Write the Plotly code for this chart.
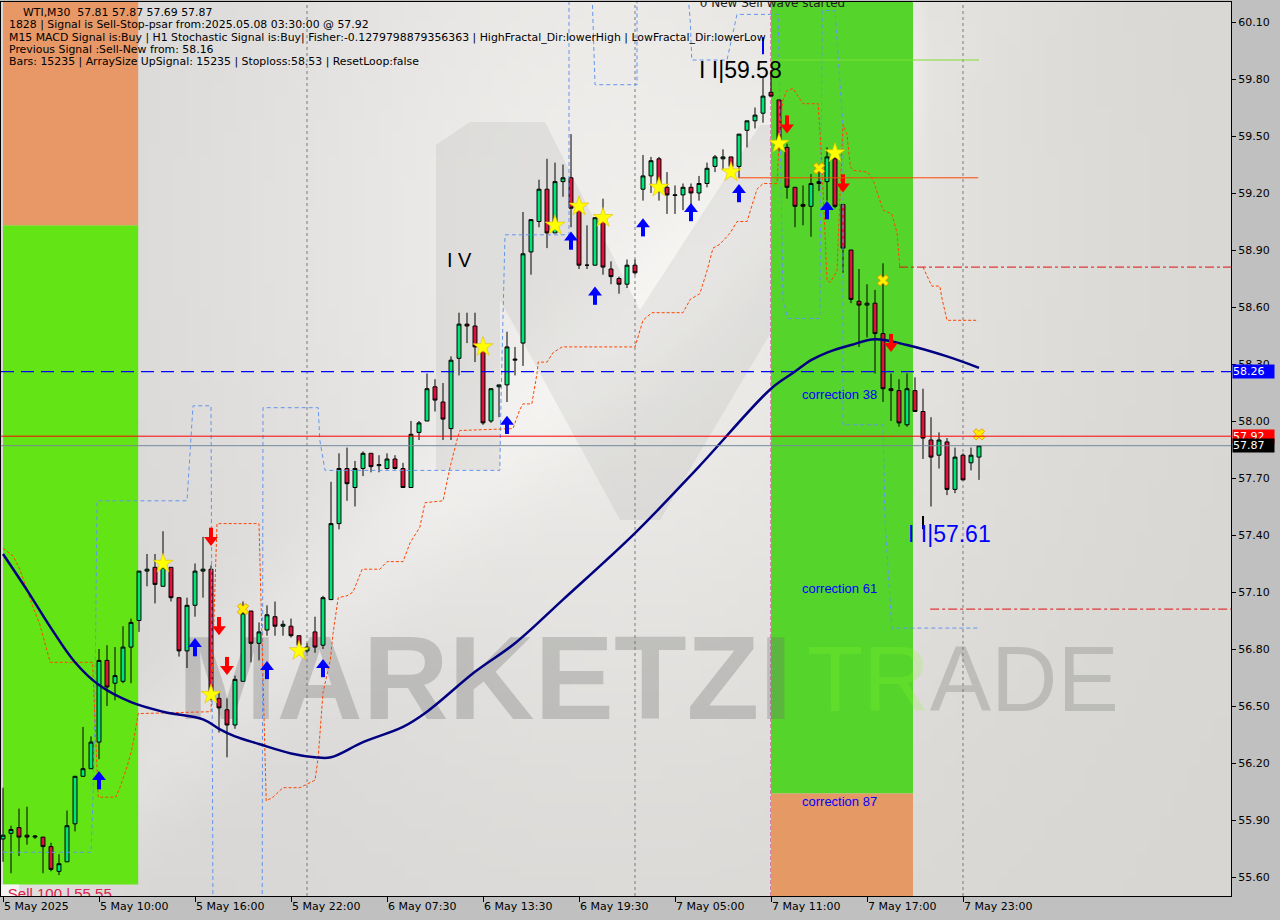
import math, zlib, struct, base64
import plotly.graph_objects as go

# ---------------- data ----------------
bar_index = list(range(123))
opens = [55.80,55.83,55.86,55.82,55.81,55.81,55.76,55.63,55.68,55.88,
56.13,56.17,56.31,56.74,56.62,56.63,56.81,56.95,57.21,57.23,
57.13,57.23,57.07,56.79,57.03,57.21,57.22,56.54,56.48,56.40,
56.63,57.00,56.83,56.90,56.97,56.92,56.92,56.87,56.79,56.89,
56.82,57.06,57.46,57.75,57.65,57.75,57.83,57.765,57.75,57.80,
57.75,57.65,57.94,58.00,58.18,58.10,57.96,58.33,58.51,58.50,
58.39,58.00,58.18,58.19,58.32,58.41,58.89,59.05,59.22,58.99,
59.26,59.28,59.12,58.82,58.82,59.07,58.80,58.75,58.72,58.82,
59.22,59.29,59.38,59.23,59.187,59.19,59.23,59.20,59.25,59.34,
59.38,59.39,59.34,59.53,59.58,59.62,59.73,59.69,59.44,59.23,
59.14,59.13,59.26,59.26,59.38,59.14,58.90,58.63,58.61,58.62,
58.46,58.17,58.16,57.98,58.16,58.05,57.90,57.82,57.89,57.64,
57.82,57.78,57.81]
highs = [56.07,55.87,55.96,55.97,55.82,55.81,55.78,55.72,55.95,56.13,
56.39,56.34,56.80,56.82,56.81,56.92,56.96,57.21,57.30,57.30,
57.42,57.23,57.07,57.07,57.25,57.39,57.24,56.57,56.54,56.66,
57.05,57.00,56.94,57.03,57.05,56.95,56.96,56.87,56.83,56.97,
57.08,57.68,57.83,57.86,57.79,57.84,57.83,57.82,57.83,57.82,
57.78,58.00,58.00,58.25,58.22,58.20,58.34,58.57,58.57,58.57,
58.39,58.17,58.19,58.47,58.39,59.10,59.06,59.27,59.38,59.36,
59.35,59.51,59.12,59.03,59.07,59.17,58.84,58.76,58.85,58.85,
59.40,59.39,59.39,59.31,59.24,59.25,59.25,59.29,59.36,59.40,
59.43,59.39,59.51,59.58,59.65,59.81,59.82,59.69,59.46,59.23,
59.24,59.30,59.32,59.44,59.43,59.14,58.90,58.80,58.72,58.69,
58.83,58.25,58.22,58.25,58.23,58.17,58.02,57.94,57.91,57.86,
57.83,57.86,57.87]
lows = [55.68,55.62,55.71,55.77,55.80,55.62,55.63,55.61,55.68,55.84,
56.13,56.17,56.22,56.50,56.53,56.62,56.62,56.89,57.13,57.04,
57.13,57.05,56.76,56.70,56.97,57.07,56.53,56.36,56.23,56.38,
56.63,56.73,56.74,56.87,56.87,56.87,56.86,56.78,56.78,56.78,
56.80,57.06,57.43,57.58,57.55,57.71,57.73,57.73,57.745,57.745,
57.65,57.65,57.90,58.00,58.05,57.90,57.90,58.24,58.41,58.31,
57.98,57.99,58.02,58.10,58.24,58.29,58.77,59.02,58.91,58.99,
59.18,59.02,58.80,58.80,58.82,58.77,58.72,58.67,58.70,58.77,
59.16,59.20,59.16,59.09,59.09,59.11,59.11,59.16,59.23,59.31,
59.32,59.30,59.28,59.44,59.54,59.57,59.71,59.42,59.17,59.02,
59.03,58.97,59.21,59.16,59.12,58.78,58.62,58.39,58.44,58.25,
58.10,58.00,57.97,57.97,58.05,57.80,57.55,57.75,57.61,57.62,
57.69,57.74,57.69]
closes = [55.82,55.85,55.81,55.81,55.815,55.76,55.64,55.67,55.87,56.13,
56.17,56.31,56.74,56.60,56.66,56.81,56.94,57.21,57.22,57.14,
57.23,57.07,56.79,57.03,57.21,57.22,56.57,56.49,56.40,56.64,
56.99,56.83,56.89,56.98,56.92,56.93,56.87,56.82,56.81,56.81,
57.07,57.46,57.75,57.67,57.75,57.83,57.76,57.77,57.80,57.75,
57.65,57.93,57.99,58.17,58.11,58.01,58.32,58.51,58.50,58.39,
57.99,58.17,58.19,58.39,58.325,58.88,59.06,59.22,58.99,59.26,
59.28,59.12,58.82,58.82,59.07,58.81,58.76,58.72,58.82,58.78,
59.29,59.37,59.23,59.19,59.19,59.23,59.20,59.25,59.33,59.39,
59.39,59.34,59.51,59.58,59.61,59.71,59.71,59.44,59.23,59.13,
59.13,59.25,59.25,59.39,59.13,58.91,58.64,58.61,58.62,58.46,
58.17,58.16,57.99,58.17,58.05,57.91,57.81,57.90,57.64,57.81,
57.69,57.82,57.87]

x_tick_bars = [0, 12, 24, 36, 48, 60, 72, 84, 96, 108, 120]
x_tick_text = ["5 May 2025", "5 May 10:00", "5 May 16:00", "5 May 22:00", "6 May 07:30",
               "6 May 13:30", "6 May 19:30", "7 May 05:00", "7 May 11:00", "7 May 17:00", "7 May 23:00"]
y_tick_vals = [55.60, 55.90, 56.20, 56.50, 56.80, 57.10, 57.40, 57.70, 58.00,
               58.30, 58.60, 58.90, 59.20, 59.50, 59.80, 60.10]

# moving average (navy)
ma_bar = [0, 3, 6, 9, 12, 16, 20, 25, 27, 29, 32, 36, 39, 41, 45, 50, 53, 59, 64, 70,
          79, 87, 96, 99, 101, 103, 106, 109, 113, 118, 122]
ma_val = [57.30, 57.11, 56.91, 56.73, 56.61, 56.52, 56.47, 56.43, 56.38, 56.34, 56.30, 56.25,
          56.23, 56.23, 56.31, 56.39, 56.47, 56.68, 56.83, 57.06, 57.41, 57.76, 58.17, 58.26,
          58.32, 58.36, 58.40, 58.43, 58.40, 58.34, 58.28]

# trailing stop (orange-red dashed)
psar_bar = [0, 1.25, 2.1, 3, 3.75, 4.6, 5.9, 11.2, 11.9, 14.1, 14.6, 15.5, 16.1, 16.5, 16.9, 26,
            26.75, 32, 32.9, 33.75, 35, 37.1, 39, 39.4, 40, 40.9, 41.25, 41.9, 43, 43.75, 44.9, 47.1,
            48, 50, 50.9, 52.1, 52.75, 55, 55.9, 56.75, 57.1, 63.75, 64.6, 65, 66.1, 66.75, 66.9, 68,
            68.75, 69.9, 79, 80, 81.1, 85, 85.9, 87.1, 88, 88.75, 89.6, 90.9, 91.75, 93, 94.25, 95,
            96.75, 97.1, 97.5, 98, 98.75, 100, 101.9, 102.4, 102.75, 103, 103.4, 104.25, 104.6, 105,
            105.5, 105.9, 106.25, 108.1, 108.75, 110, 111.1, 111.75, 112.1, None,
            115, 116.1, 117.1, 117.4, 118, 121.9]
psar_val = [57.33, 57.29, 57.22, 57.11, 57.02, 56.93, 56.73, 56.73, 56.02, 56.02, 56.07, 56.18,
            56.27, 56.36, 56.46, 56.47, 57.46, 57.46, 56.00, 56.02, 56.07, 56.07, 56.11, 56.23,
            56.57, 56.74, 56.88, 57.07, 57.08, 57.10, 57.22, 57.22, 57.26, 57.26, 57.36, 57.44,
            57.57, 57.58, 57.76, 57.90, 57.95, 57.96, 58.06, 58.09, 58.09, 58.25, 58.31, 58.31,
            58.36, 58.39, 58.39, 58.53, 58.57, 58.57, 58.64, 58.67, 58.79, 58.91, 58.93, 58.99,
            59.05, 59.05, 59.22, 59.25, 59.25, 59.53, 59.69, 59.74, 59.75, 59.67, 59.67, 59.32,
            58.95, 58.74, 58.73, 58.79, 59.16, 59.56, 59.51, 59.34, 59.32, 59.31, 59.27, 59.11,
            59.09, 58.99, 58.81, None,
            58.81, 58.71, 58.71, 58.64, 58.53, 58.53]

# fractal channel (light blue dashed steps)
chan_bar = [0, 11, 11.25, 11.5, 11.75, 23, 23.75, 26, 26.25, None,
            32.4, 32.5, 39.4, 39.6, 40.25, 62.1, 62.25, 62.5, 62.75, 70.75, 70.75, None,
            73.6, 74, 79.25, 79.25, None,
            85.5, 85.9, 86.1, 90.5, 91.75, 96.9, 97.5, 98.1, 102.1, 102.4, 104, 105, 105, 110,
            110.25, 111.1, 121.9]
chan_val = [55.73, 55.73, 56.01, 56.53, 57.58, 57.58, 58.08, 58.08, 55.40, None,
            55.40, 58.07, 58.07, 57.90, 57.74, 57.74, 58.11, 58.48, 58.98, 58.98, 60.30, None,
            60.30, 59.77, 59.77, 60.30, None,
            60.30, 60.11, 59.90, 59.90, 60.14, 60.14, 58.64, 58.54, 58.54, 60.16, 60.16, 59.55,
            57.98, 57.98, 57.48, 56.91, 56.91]

up_arrow_bar = [12, 24, 33, 40, 63, 71, 74, 80, 86, 92, 103]
up_arrow_val = [56.11, 56.81, 56.69, 56.70, 57.98, 58.95, 58.66, 59.02, 59.10, 59.20, 59.11]
down_arrow_bar = [26, 27, 28, 98, 105, 111]
down_arrow_val = [57.39, 56.92, 56.71, 59.56, 59.25, 58.41]
star_bar = [20, 26, 37, 60, 69, 72, 75, 82, 91, 97, 104]
star_val = [57.25, 56.56, 56.79, 58.39, 59.03, 59.13, 59.07, 59.23, 59.31, 59.46, 59.41]
cross_bar = [30, 102, 110, 122]
cross_val = [57.01, 59.33, 58.74, 57.93]

separator_bars = [38, 79, 120]
signal_bar = 96

zone_x0 = [0, 0, 96, 96]
zone_x1 = [16.9, 16.9, 113.75, 113.75]
zone_y0 = [55.56, 59.03, 56.04, 55.40]
zone_y1 = [59.03, 60.30, 60.30, 56.04]
zone_color = ["#63e414", "#e89866", "#55d52b", "#e59a66"]

level_blue = 58.26
level_red = 57.92
level_close = 57.87
level_green, level_green_x = 59.90, (96, 122)
level_orange, level_orange_x = 59.28, (91.9, 121.9)
level_stop, level_stop_x0 = 58.81, 112
level_target, level_target_x0 = 57.01, 115.9

info_lines = [
    "1828 | Signal is Sell-Stop-psar from:2025.05.08 03:30:00 @ 57.92",
    "M15 MACD Signal is:Buy | H1 Stochastic Signal is:Buy| Fisher:-0.1279798879356363 | HighFractal_Dir:lowerHigh | LowFractal_Dir:lowerLow",
    "Previous Signal :Sell-New from: 58.16",
    "Bars: 15235 | ArraySize UpSignal: 15235 | Stoploss:58.53 | ResetLoop:false",
]
title_line = "WTI,M30  57.81 57.87 57.69 57.87"

# ---------------- helpers ----------------
W, H = 1280, 920
ML, MR, MT, MB = 1, 49, 2, 24
XR = [-0.25, 153.5]
YR = [55.50, 60.2053]
PX_PER_PRICE = (H - MT - MB) / (YR[1] - YR[0])

def px(x):
    return (x - ML) / (W - ML - MR)

def py(y):
    return 1 - (y - MT) / (H - MT - MB)

def png_uri(w, h, fn):
    rows = []
    for j in range(h):
        row = bytearray([0])
        for i in range(w):
            row.extend(fn(i / (w - 1), j / (h - 1)))
        rows.append(bytes(row))
    raw = b"".join(rows)
    def chunk(t, d):
        return struct.pack(">I", len(d)) + t + d + struct.pack(">I", zlib.crc32(t + d) & 0xffffffff)
    png = (b"\x89PNG\r\n\x1a\n" + chunk(b"IHDR", struct.pack(">IIBBBBB", w, h, 8, 2, 0, 0, 0))
           + chunk(b"IDAT", zlib.compress(raw)) + chunk(b"IEND", b""))
    return "data:image/png;base64," + base64.b64encode(png).decode()

def bg(u, v):
    b = 215 + 24 * math.exp(-(((u - 0.5) / 0.33) ** 2 + ((v - 0.25) / 0.6) ** 2))
    d = (v - (1.0 - 1.25 * u)) / 1.6
    b += 9 * math.exp(-(d / 0.06) ** 2) * (1 if u < 0.75 else 0.3)
    b = min(b, 246)
    return (int(b), int(b - 1), int(b - 2 - 3 * u))

fig = go.Figure()

# candles
fig.add_trace(go.Candlestick(
    x=bar_index, open=opens, high=highs, low=lows, close=closes,
    increasing=dict(line=dict(color="black", width=1), fillcolor="#00e676"),
    decreasing=dict(line=dict(color="black", width=1), fillcolor="#dc143c"),
    whiskerwidth=0, hoverinfo="skip"))

# overlays
fig.add_trace(go.Scatter(x=chan_bar, y=chan_val, mode="lines", connectgaps=False,
                         line=dict(color="#6495ed", width=1, dash="4px,3px"), hoverinfo="skip"))
fig.add_trace(go.Scatter(x=psar_bar, y=psar_val, mode="lines", connectgaps=False,
                         line=dict(color="#ff4500", width=1, dash="3px,2px"), hoverinfo="skip"))
fig.add_trace(go.Scatter(x=ma_bar, y=ma_val, mode="lines", line=dict(color="#000080", width=2.5),
                         line_shape="spline", hoverinfo="skip"))

# signal markers
fig.add_trace(go.Scatter(x=star_bar, y=star_val, mode="markers",
                         marker=dict(symbol="star", size=15, color="#ffff00", line=dict(color="#e0c000", width=0.6)),
                         hoverinfo="skip"))
fig.add_trace(go.Scatter(x=cross_bar, y=cross_val, mode="markers",
                         marker=dict(symbol="x", size=10, color="#ffee00", line=dict(color="#e09000", width=0.8)),
                         hoverinfo="skip"))
off = 3.0 / PX_PER_PRICE
for xs, vs, sgn, col in ((up_arrow_bar, up_arrow_val, 1, "#0000ff"), (down_arrow_bar, down_arrow_val, -1, "#ff0000")):
    fig.add_trace(go.Scatter(x=xs, y=[v - sgn * 1.2 * off for v in vs], mode="markers",
                             marker=dict(symbol="line-ns", size=8, line=dict(color=col, width=4)),
                             hoverinfo="skip"))
    fig.add_trace(go.Scatter(x=xs, y=[v + sgn * off for v in vs], mode="markers",
                             marker=dict(symbol="triangle-up" if sgn > 0 else "triangle-down", size=12,
                                         color=col, line=dict(width=0)),
                             hoverinfo="skip"))

# clipped labels at chart edges
fig.add_trace(go.Scatter(x=[87.1], y=[60.195], mode="text", text=["0 New Sell wave started"],
                         textposition="middle right", cliponaxis=True,
                         textfont=dict(family="DejaVu Sans", size=12, color="#202020"), hoverinfo="skip"))
fig.add_trace(go.Scatter(x=[0.6], y=[55.503], mode="text", text=["Sell 100 | 55.55"],
                         textposition="middle right", cliponaxis=True,
                         textfont=dict(family="Liberation Sans", size=15, color="#e0204a"), hoverinfo="skip"))

shapes = []
# M logo
m_pts = [(436, 470), (436, 145), (470, 122), (545, 122), (640, 310), (760, 125), (855, 125),
         (855, 470), (790, 470), (790, 300), (660, 520), (620, 520), (500, 300), (500, 470)]
path = "M " + " L ".join(f"{px(a):.4f},{py(b):.4f}" for a, b in m_pts) + " Z"
shapes.append(dict(type="path", path=path, xref="paper", yref="paper", layer="below",
                   fillcolor="rgba(150,150,150,0.15)", line=dict(width=0)))
# zones
for x0, x1, y0, y1, c in zip(zone_x0, zone_x1, zone_y0, zone_y1, zone_color):
    shapes.append(dict(type="rect", xref="x", yref="y", x0=x0, x1=x1, y0=y0, y1=y1,
                       fillcolor=c, line=dict(width=0), layer="below"))
# white label box bottom-left
shapes.append(dict(type="rect", xref="x", yref="y", x0=-0.25, x1=2.0, y0=55.40, y1=55.56,
                   fillcolor="#f4f4f4", line=dict(width=0), layer="below"))
# watermark (axis-referenced so it stays above the zones, below the candles)
shapes.append(dict(type="rect", xref="x", yref="y", x0=20.9, x1=99.6, y0=56.394, y1=57.024,
                   fillcolor="rgba(0,0,0,0)", line=dict(width=0), layer="below",
                   label=dict(text="MARKETZI", textposition="middle center",
                              font=dict(family="Liberation Sans", size=119, color="rgba(110,110,110,0.30)",
                                        weight="bold"))))
shapes.append(dict(type="rect", xref="x", yref="y", x0=100.6, x1=139.4, y0=56.373, y1=57.003,
                   fillcolor="rgba(0,0,0,0)", line=dict(width=0), layer="below",
                   label=dict(text='<span style="color:rgba(140,250,40,0.75)">TR</span>ADE',
                              textposition="middle center",
                              font=dict(family="Liberation Sans", size=92,
                                        color="rgba(110,110,110,0.28)"))))
# separators
for b in separator_bars:
    shapes.append(dict(type="line", xref="x", yref="paper", x0=b, x1=b, y0=0, y1=1,
                       line=dict(color="#7a7a7a", width=1, dash="3px,3px"), layer="below"))
shapes.append(dict(type="line", xref="x", yref="paper", x0=signal_bar, x1=signal_bar, y0=0, y1=1,
                   line=dict(color="#d0208a", width=1, dash="4px,2px"), layer="below"))
# levels
shapes += [
    dict(type="line", xref="paper", yref="y", x0=0, x1=1, y0=level_blue, y1=level_blue,
         line=dict(color="#0000ff", width=1.2, dash="13px,7px")),
    dict(type="line", xref="paper", yref="y", x0=0, x1=1, y0=level_red, y1=level_red,
         line=dict(color="#ff0000", width=1)),
    dict(type="line", xref="paper", yref="y", x0=0, x1=1, y0=level_close, y1=level_close,
         line=dict(color="#778899", width=1)),
    dict(type="line", xref="x", yref="y", x0=level_green_x[0], x1=level_green_x[1], y0=level_green, y1=level_green,
         line=dict(color="#80dd30", width=1)),
    dict(type="line", xref="x", yref="y", x0=level_orange_x[0], x1=level_orange_x[1], y0=level_orange,
         y1=level_orange, line=dict(color="#ff4500", width=1)),
    dict(type="line", xref="x", yref="y", x0=level_stop_x0, x1=XR[1], y0=level_stop, y1=level_stop,
         line=dict(color="#e01010", width=1, dash="dashdot")),
    dict(type="line", xref="x", yref="y", x0=level_target_x0, x1=XR[1], y0=level_target, y1=level_target,
         line=dict(color="#e01010", width=1, dash="dashdot")),
    dict(type="line", xref="x", yref="y", x0=95, x1=95, y0=59.93, y1=60.02, line=dict(color="#0000ff", width=2)),
    dict(type="line", xref="x", yref="y", x0=115, x1=115, y0=57.43, y1=57.50, line=dict(color="black", width=2)),
]

annotations = []
annotations.append(dict(xref="paper", yref="paper", x=px(21), y=py(12.5), text=title_line, showarrow=False,
                        xanchor="left", yanchor="middle", font=dict(family="DejaVu Sans", size=10.9, color="black")))
for k, t in enumerate(info_lines):
    annotations.append(dict(xref="paper", yref="paper", x=px(7), y=py(25 + 12.3 * k), text=t, showarrow=False,
                            xanchor="left", yanchor="middle",
                            font=dict(family="DejaVu Sans", size=10.9, color="black")))
# chart labels
annotations += [
    dict(xref="x", yref="y", x=57.1, y=58.85, text="I V", showarrow=False, xanchor="center", yanchor="middle",
         font=dict(family="Liberation Sans", size=20, color="black")),
    dict(xref="x", yref="y", x=86.7, y=59.85, text="I I|59.58", showarrow=False, xanchor="left", yanchor="middle",
         font=dict(family="Liberation Sans", size=23, color="black")),
    dict(xref="x", yref="y", x=112.9, y=57.405, text="I I|57.61", showarrow=False, xanchor="left",
         yanchor="middle", font=dict(family="Liberation Sans", size=23, color="#0000ff")),
]
for lbl, yv in (("correction 38", 58.137), ("correction 61", 57.121), ("correction 87", 56.00)):
    annotations.append(dict(xref="x", yref="y", x=99.6, y=yv, text=lbl, showarrow=False, xanchor="left",
                            yanchor="middle", font=dict(family="Liberation Sans", size=13, color="#0000ff")))
# price tags on the axis
for val, bgc in ((level_blue, "#0000ff"), (level_red, "#ff0000"), (level_close, "#000000")):
    annotations.append(dict(xref="paper", yref="y", x=1, y=val, text=f"{val:.2f}", showarrow=False,
                            xanchor="left", yanchor="middle", xshift=1, bgcolor=bgc, borderpad=0,
                            width=41, height=13, align="left",
                            font=dict(family="DejaVu Sans", size=11, color="white")))

fig.update_layout(
    width=W, height=H, margin=dict(l=ML, r=MR, t=MT, b=MB, autoexpand=False),
    paper_bgcolor="#c0c0c0", plot_bgcolor="#e2e2e2", showlegend=False,
    shapes=shapes, annotations=annotations,
    images=[dict(source=png_uri(96, 72, bg), xref="paper", yref="paper", x=0, y=1, sizex=1, sizey=1,
                 sizing="stretch", layer="below", xanchor="left", yanchor="top")],
    xaxis=dict(range=XR, tickmode="array", tickvals=x_tick_bars, ticktext=x_tick_text,
               ticks="outside", ticklen=5, tickcolor="black", showgrid=False, zeroline=False,
               showline=True, linecolor="black", mirror=True, ticklabelposition="outside right",
               tickfont=dict(family="DejaVu Sans", size=11, color="black"), automargin=False,
               rangeslider=dict(visible=False), fixedrange=True),
    yaxis=dict(range=YR, side="right", tickmode="array", tickvals=y_tick_vals,
               ticktext=[f"{v:.2f}" for v in y_tick_vals], ticks="outside", ticklen=4, tickcolor="black",
               showgrid=False, zeroline=False, showline=True, linecolor="black", mirror=True,
               automargin=False,
               tickfont=dict(family="DejaVu Sans", size=11, color="black"), fixedrange=True),
)

fig.write_html("out.html", config={"displayModeBar": False, "staticPlot": False},
               post_script="document.body.style.margin='0px';document.body.style.overflow='hidden';")
